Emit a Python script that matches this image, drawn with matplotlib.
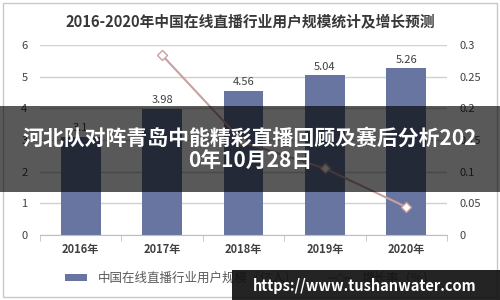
import matplotlib
matplotlib.use('Agg')
from matplotlib import pyplot as plt
from matplotlib.patches import Rectangle

plt.rcParams['font.family'] = ['Noto Sans CJK SC', 'DejaVu Sans']

years = ['2016年', '2017年', '2018年', '2019年', '2020年']
users = [3.1, 3.98, 4.56, 5.04, 5.26]
growth = [None, 0.284, 0.146, 0.105, 0.044]
bar_labels = ['3.1', '3.98', '4.56', '5.04', '5.26']
left_ticks = [0, 1, 2, 3, 4, 5, 6]
right_ticks = [0, 0.05, 0.1, 0.15, 0.2, 0.25, 0.3]
right_tick_labels = ['0', '0.05', '0.1', '0.15', '0.2', '0.25', '0.3']

title = '2016-2020年中国在线直播行业用户规模统计及增长预测'
overlay_text = '河北队对阵青岛中能精彩直播回顾及赛后分析202\n0年10月28日'
watermark = 'https://www.tushanwater.com'

bar_color = '#6875a0'
line_color = '#c9a0a0'
text_color = '#404040'


def plot():
    fig = plt.figure(figsize=(5, 3), dpi=100)
    ax = fig.add_axes([0.08, 0.217, 0.814, 0.633])
    ax2 = ax.twinx()

    x = list(range(len(years)))
    bars = ax.bar(x, users, width=0.49, color=bar_color, zorder=2)
    for b, lab in zip(bars, bar_labels):
        ax.text(b.get_x() + b.get_width() / 2, b.get_height() + 0.12, lab,
                ha='center', va='bottom', fontsize=8, color=text_color)

    ax.set_xlim(-0.5, 4.5)
    ax.set_ylim(0, 6)
    ax.set_yticks(left_ticks)
    ax.set_xticks(x)
    ax.set_xticklabels(years, fontsize=8, color=text_color, fontweight='bold')
    ax.set_xticks([i - 0.5 for i in range(len(years) + 1)], minor=True)
    ax.tick_params(axis='x', which='major', length=0, pad=6)
    ax.tick_params(axis='x', which='minor', length=4, color='#bfbfbf')
    ax.tick_params(axis='y', length=0, labelsize=8, labelcolor=text_color, pad=9)
    ax.grid(axis='y', color='#d0d0d0', linewidth=1, zorder=0)
    for s in ['top', 'left', 'right']:
        ax.spines[s].set_visible(False)
        ax2.spines[s].set_visible(False)
    ax.spines['bottom'].set_color('#bfbfbf')
    ax2.spines['bottom'].set_visible(False)

    gx = [i for i, g in enumerate(growth) if g is not None]
    gy = [g for g in growth if g is not None]
    ax2.plot(gx, gy, color=line_color, linewidth=1.5, marker='D', markersize=5,
             markerfacecolor='white', markeredgecolor=line_color,
             label='增长率（%）')
    ax2.set_ylim(0, 0.3)
    ax2.set_yticks(right_ticks)
    ax2.set_yticklabels(right_tick_labels)
    ax2.tick_params(axis='y', length=0, labelsize=8, labelcolor=text_color, pad=9)

    fig.text(0.5, 0.925, title, ha='center', va='center', fontsize=10.6,
             fontweight='bold', color='#383838')

    handles = [bars, ax2.get_lines()[0]]
    labels = ['中国在线直播行业用户规模（亿人）', '增长率（%）']
    fig.legend(handles, labels, loc='center', bbox_to_anchor=(0.5, 0.073),
               ncol=2, frameon=False, fontsize=9, labelcolor='#595959',
               handlelength=1.8, handleheight=0.5, columnspacing=2.5)

    # outer frame
    fig.patches.append(Rectangle((0.006, 0.01), 0.988, 0.98, transform=fig.transFigure,
                                 fill=False, edgecolor='#c8c8c8', linewidth=1, zorder=5))

    # dark overlay band with headline
    fig.patches.append(Rectangle((0, 0.36), 1, 0.287, transform=fig.transFigure,
                                 facecolor='black', alpha=0.65, zorder=10))
    fig.text(0.5, 0.503, overlay_text, ha='center', va='center', fontsize=15,
             fontweight='bold', color='white', linespacing=1.05, zorder=11)

    # watermark box
    fig.patches.append(Rectangle((0.464, 0), 0.536, 0.1, transform=fig.transFigure,
                                 facecolor='#111111', alpha=0.92, zorder=10))
    fig.text(0.73, 0.047, watermark, ha='center', va='center', fontsize=10.5,
             fontweight='bold', color='white', zorder=11)

    fig.savefig('out.png', dpi=100)


def main():
    plot()


if __name__ == '__main__':
    main()
